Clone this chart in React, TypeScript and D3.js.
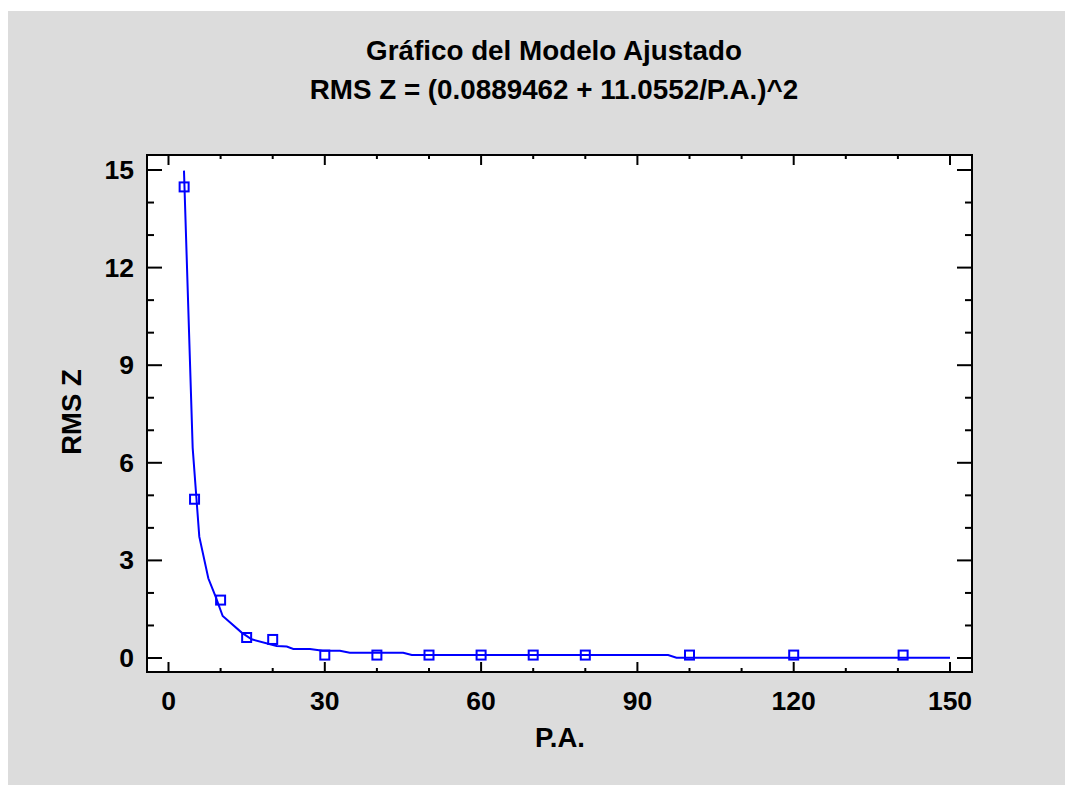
import * as d3 from "d3";

const W = 1065;
const H = 785;

// observed points
const paValues = [3, 5, 10, 15, 20, 30, 40, 50, 60, 70, 80, 100, 120, 141];
const rmsValues = [14.48, 4.88, 1.78, 0.63, 0.57, 0.09, 0.09, 0.09, 0.09, 0.09, 0.09, 0.09, 0.09, 0.09];

// fitted curve
const fitX = [2.97, 4.64, 5.91, 7.64, 9.06, 10.4, 14.05, 15.96, 20.76, 22.7, 23.95, 27.15, 29.6, 32.9, 34.8, 45.05, 46.7, 95.9, 97.5, 150];
const fitY = [14.98, 6.46, 3.73, 2.45, 1.88, 1.29, 0.78, 0.575, 0.37, 0.35, 0.28, 0.28, 0.22, 0.22, 0.16, 0.16, 0.09, 0.09, 0.01, 0.01];

const xTicks = [0, 30, 60, 90, 120, 150];
const yTicks = [0, 3, 6, 9, 12, 15];

const title1 = "Gráfico del Modelo Ajustado";
const title2 = "RMS Z = (0.0889462 + 11.0552/P.A.)^2";

const box = { left: 147, top: 155, right: 972, bottom: 672 };
const font = "'Liberation Sans', Arial, sans-serif";
const blue = "#0000ff";

export default function App() {
  const x = d3.scaleLinear().domain([0, 150]).range([168.5, 950]);
  const y = d3.scaleLinear().domain([0, 15]).range([658, 170]);

  const line = d3
    .line<number>()
    .x((d) => x(fitX[d]))
    .y((d) => y(fitY[d]));

  const minorX = d3.range(0, 151, 10);
  const minorY = d3.range(0, 16, 1);

  return (
    <svg width={W} height={H} style={{ position: "absolute", left: 0, top: 0 }}>
      <rect x={8} y={11} width={W - 8} height={H - 11} fill="#dcdcdc" />
      <text x={554} y={60} textAnchor="middle" fontFamily={font} fontWeight="bold" fontSize={27.8}>
        {title1}
      </text>
      <text x={554} y={99} textAnchor="middle" fontFamily={font} fontWeight="bold" fontSize={27.8}>
        {title2}
      </text>

      <rect
        x={box.left}
        y={box.top}
        width={box.right - box.left}
        height={box.bottom - box.top}
        fill="#fff"
        stroke="#000"
        strokeWidth={2}
      />

      <g stroke="#000" strokeWidth={2}>
        {minorX.map((v) => {
          const len = v % 30 === 0 ? 10 : 4;
          return (
            <g key={"x" + v}>
              <line x1={x(v)} x2={x(v)} y1={box.bottom} y2={box.bottom - len} />
              <line x1={x(v)} x2={x(v)} y1={box.top} y2={box.top + len} />
            </g>
          );
        })}
        {minorY.map((v) => {
          const len = v % 3 === 0 ? 15 : 7;
          return (
            <g key={"y" + v}>
              <line x1={box.left} x2={box.left + len} y1={y(v)} y2={y(v)} />
              <line x1={box.right} x2={box.right - len} y1={y(v)} y2={y(v)} />
            </g>
          );
        })}
      </g>

      <g fontFamily={font} fontWeight="bold" fontSize={26.5}>
        {xTicks.map((v) => (
          <text key={v} x={x(v)} y={710} textAnchor="middle">
            {v}
          </text>
        ))}
        {yTicks.map((v) => (
          <text key={v} x={134} y={y(v) + 9} textAnchor="end">
            {v}
          </text>
        ))}
      </g>

      <text x={560} y={747} textAnchor="middle" fontFamily={font} fontWeight="bold" fontSize={27.5}>
        P.A.
      </text>
      <text
        transform={`translate(81,412) rotate(-90)`}
        textAnchor="middle"
        fontFamily={font}
        fontWeight="bold"
        fontSize={27.5}
      >
        RMS Z
      </text>

      <path d={line(d3.range(fitX.length)) || ""} fill="none" stroke={blue} strokeWidth={2} />
      <g fill="none" stroke={blue} strokeWidth={2}>
        {paValues.map((v, i) => (
          <rect key={i} x={x(v) - 4.5} y={y(rmsValues[i]) - 4.5} width={9} height={9} />
        ))}
      </g>
    </svg>
  );
}
